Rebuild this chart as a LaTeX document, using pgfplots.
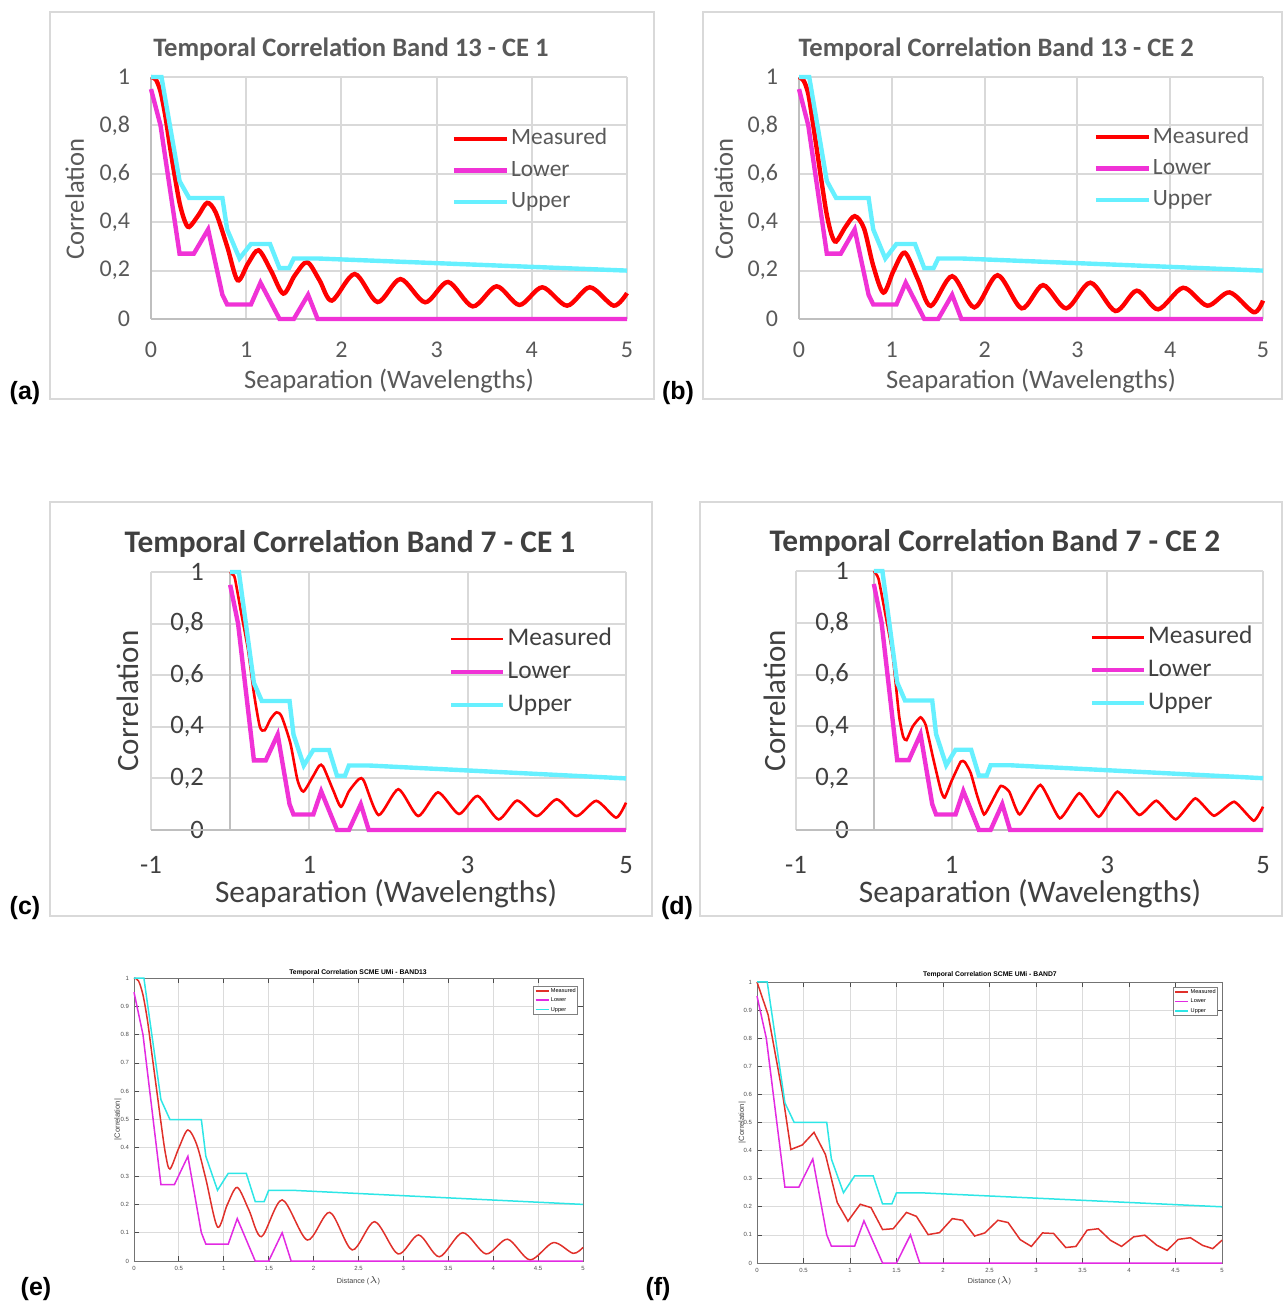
\documentclass[border=0pt]{standalone}
\usepackage{fontspec}
\setmainfont{Carlito}
\newfontfamily\arialfont{Liberation Sans}
\usepackage{pgfplots}
\usepackage{pgfplotstable}
\pgfplotsset{compat=1.18}

\definecolor{exred}{HTML}{FF0000}
\definecolor{exmag}{HTML}{F032D6}
\definecolor{excyan}{HTML}{66F0FF}
\definecolor{gridg}{HTML}{D9D9D9}
\definecolor{axg}{HTML}{BFBFBF}
\definecolor{txtg}{HTML}{595959}
\definecolor{txtd}{HTML}{404040}
\definecolor{mred}{HTML}{E0302A}
\definecolor{mmag}{HTML}{E22AE2}
\definecolor{mcyan}{HTML}{2EE6E6}

\newcommand{\fs}[1]{\fontsize{#1}{#1}\selectfont}

\pgfplotstableread{
x y
0 0.95
0.1 0.8
0.3 0.27
0.45 0.27
0.6 0.37
0.75 0.1
0.8 0.06
1.05 0.06
1.15 0.15
1.35 0
1.5 0
1.65 0.1
1.75 0
5 0
}\lowerdata

\pgfplotstableread{
x y
0 1
0.11 1
0.3 0.57
0.4 0.5
0.75 0.5
0.8 0.37
0.93 0.25
1.05 0.31
1.25 0.31
1.35 0.21
1.45 0.21
1.5 0.25
1.75 0.25
5 0.2
}\upperdata

\pgfplotsset{
  excel/.style={
    scale only axis, anchor=south west, clip=false,
    axis line style={draw=none}, major tick length=0pt,
    grid=major, major grid style={draw=gridg, line width=1pt},
    ymin=0, ymax=1, ytick={0,0.2,0.4,0.6,0.8,1},
    /pgf/number format/use comma, /pgf/number format/assume math mode=true,
    legend cell align=left,
    legend image code/.code={\draw[##1] (0pt,0pt) -- (26.5pt,0pt);},
    legend style={draw=none, fill=none, anchor=north west, inner sep=0pt, row sep=5.5pt,
       nodes={inner sep=0pt, text height=8pt, text depth=2.2pt},
       /tikz/every odd column/.append style={column sep=1pt}},
    title style={anchor=center, yshift=-7pt},
    ylabel style={anchor=center},
    xlabel style={anchor=center},
  },
  matlab/.style={
    scale only axis, anchor=south west, clip=false,
    xmin=0, xmax=5, ymin=0, ymax=1,
    xtick={0,0.5,...,5}, ytick={0,0.1,...,1},
    grid=major, major grid style={draw=black!14, line width=0.4pt},
    axis line style={draw=black!55, line width=0.4pt},
    tick align=inside, major tick length=2.5pt, tick style={draw=black!70, line width=0.4pt},
    tick label style={font=\arialfont\fs{3}, text=black!70},
    /pgf/number format/assume math mode=true,
    xticklabel style={yshift=1pt}, yticklabel style={xshift=1pt},
    title style={anchor=center, yshift=-7pt, font=\arialfont\bfseries\fs{3.4}},
    xlabel style={anchor=center, font=\arialfont\fs{3.6}, text=black!75},
    ylabel style={anchor=center, font=\arialfont\fs{3.8}, text=black!75},
    legend cell align=left,
    legend image code/.code={\draw[##1] (0pt,0pt) -- (6.5pt,0pt);},
    legend style={draw=black!50, fill=white, anchor=north east, font=\arialfont\fs{2.8},
       inner sep=0.6pt, row sep=1.4pt,
       nodes={inner sep=0.3pt, text height=2.1pt, text depth=0.6pt},
       /tikz/every odd column/.append style={column sep=0.5pt}},
  },
}

\begin{document}
\begin{tikzpicture}
\useasboundingbox (0,0) rectangle (642pt,651.5pt);

% ---------------- (a)
\begin{axis}[excel, at={(75.5pt,492pt)}, width=238pt, height=121pt,
  xmin=0, xmax=5, xtick={0,1,2,3,4,5},
  title={Temporal Correlation Band 13 - CE 1},
  title style={at={(axis description cs:0.42,1.124)}, font=\bfseries\fs{13.3}, text=txtg},
  xlabel={Seaparation (Wavelengths)},
  xlabel style={at={(axis description cs:0.5,-0.256)}, font=\fs{13.3}, text=txtg},
  ylabel={Correlation},
  ylabel style={at={(axis description cs:-0.16,0.496)}, font=\fs{13.3}, text=txtg},
  tick label style={font=\fs{12}, text=txtg},
  xticklabel style={yshift=-8pt}, yticklabel style={xshift=-7pt},
  legend style={at={(axis description cs:0.631,0.787)}, font=\fs{11.7}, text=txtg}]
\draw[axg, line width=1pt] (axis cs:0,0) -- (axis cs:5,0);
\draw[axg, line width=1pt] (axis cs:0,0) -- (axis cs:0,1);
\addplot[exred, line width=2.2pt, smooth] coordinates {
(0,1) (0.05,0.99) (0.1,0.94) (0.15,0.84) (0.2,0.71) (0.25,0.59) (0.3,0.48) (0.35,0.41) (0.4,0.38) (0.5,0.43) (0.59,0.48) (0.68,0.44) (0.8,0.3) (0.91,0.16) (1.02,0.23) (1.13,0.284) (1.26,0.2) (1.39,0.105) (1.51,0.18) (1.64,0.235) (1.77,0.16) (1.9,0.076) (2.14,0.186) (2.38,0.07) (2.62,0.165) (2.88,0.069) (3.12,0.153) (3.38,0.052) (3.63,0.135) (3.87,0.058) (4.11,0.131) (4.37,0.055) (4.61,0.131) (4.86,0.055) (5,0.107)};
\addplot[exmag, line width=2.2pt] table {\lowerdata};
\addplot[excyan, line width=2.2pt] table {\upperdata};
\legend{Measured,Lower,Upper}
\end{axis}

% ---------------- (b)
\begin{axis}[excel, at={(399.5pt,492pt)}, width=232pt, height=121pt,
  xmin=0, xmax=5, xtick={0,1,2,3,4,5},
  title={Temporal Correlation Band 13 - CE 2},
  title style={at={(axis description cs:0.425,1.124)}, font=\bfseries\fs{13.3}, text=txtg},
  xlabel={Seaparation (Wavelengths)},
  xlabel style={at={(axis description cs:0.5,-0.256)}, font=\fs{13.3}, text=txtg},
  ylabel={Correlation},
  ylabel style={at={(axis description cs:-0.162,0.496)}, font=\fs{13.3}, text=txtg},
  tick label style={font=\fs{12}, text=txtg},
  xticklabel style={yshift=-8pt}, yticklabel style={xshift=-7pt},
  legend style={at={(axis description cs:0.634,0.795)}, font=\fs{11.7}, text=txtg}]
\draw[axg, line width=1pt] (axis cs:0,0) -- (axis cs:5,0);
\draw[axg, line width=1pt] (axis cs:0,0) -- (axis cs:0,1);
\addplot[exred, line width=2.2pt, smooth] coordinates {
(0,1) (0.05,0.985) (0.1,0.93) (0.15,0.81) (0.2,0.68) (0.25,0.55) (0.3,0.43) (0.35,0.35) (0.4,0.32) (0.5,0.38) (0.6,0.425) (0.7,0.375) (0.8,0.22) (0.91,0.109) (1.02,0.2) (1.14,0.274) (1.28,0.165) (1.42,0.054) (1.65,0.177) (1.89,0.048) (2.14,0.181) (2.40,0.044) (2.63,0.14) (2.88,0.044) (3.14,0.15) (3.41,0.033) (3.64,0.117) (3.87,0.04) (4.14,0.129) (4.40,0.055) (4.64,0.11) (4.90,0.028) (5,0.076)};
\addplot[exmag, line width=2.2pt] table {\lowerdata};
\addplot[excyan, line width=2.2pt] table {\upperdata};
\legend{Measured,Lower,Upper}
\end{axis}

% ---------------- (c)
\begin{axis}[excel, at={(75.5pt,236.5pt)}, width=237.5pt, height=129pt,
  xmin=-1, xmax=5, xtick={-1,1,3,5},
  title={Temporal Correlation Band 7 - CE 1},
  title style={at={(axis description cs:0.419,1.117)}, font=\bfseries\fs{15.7}, text=txtd},
  xlabel={Seaparation (Wavelengths)},
  xlabel style={at={(axis description cs:0.495,-0.248)}, font=\fs{15.7}, text=txtd},
  ylabel={Correlation},
  ylabel style={at={(axis description cs:-0.048,0.5)}, font=\fs{15.5}, text=txtd},
  tick label style={font=\fs{13.3}, text=txtd},
  xticklabel style={yshift=-9.8pt}, yticklabel style={xshift=30pt},
  legend style={at={(axis description cs:0.627,0.787)}, font=\fs{12.7}, text=txtd,
     row sep=5pt, nodes={text height=9pt, text depth=2.5pt}},
  legend image code/.code={\draw[#1] (0pt,0pt) -- (26pt,0pt);}]
\draw[axg, line width=1pt] (axis cs:-1,0) -- (axis cs:5,0);
\draw[axg, line width=1pt] (axis cs:0,0) -- (axis cs:0,1);
\addplot[exred, line width=1.3pt, smooth, tension=0.4] coordinates {
(0,1) (0.03,0.99) (0.06,0.975) (0.14,0.84) (0.225,0.70) (0.3,0.53) (0.375,0.40) (0.435,0.386) (0.51,0.43) (0.585,0.456) (0.65,0.44) (0.76,0.337) (0.85,0.194) (0.925,0.149) (1.05,0.21) (1.125,0.249) (1.175,0.246) (1.3,0.155) (1.4,0.09) (1.5,0.15) (1.625,0.197) (1.69,0.19) (1.875,0.058) (2.125,0.158) (2.375,0.054) (2.625,0.146) (2.89,0.062) (3.125,0.132) (3.39,0.041) (3.625,0.114) (3.875,0.054) (4.125,0.119) (4.375,0.054) (4.625,0.113) (4.875,0.048) (5,0.106)};
\addplot[exmag, line width=2.2pt] table {\lowerdata};
\addplot[excyan, line width=2.2pt] table {\upperdata};
\legend{Measured,Lower,Upper}
\end{axis}

% ---------------- (d)
\begin{axis}[excel, at={(398pt,236.5pt)}, width=233.5pt, height=129.5pt,
  xmin=-1, xmax=5, xtick={-1,1,3,5},
  title={Temporal Correlation Band 7 - CE 2},
  title style={at={(axis description cs:0.426,1.117)}, font=\bfseries\fs{15.7}, text=txtd},
  xlabel={Seaparation (Wavelengths)},
  xlabel style={at={(axis description cs:0.501,-0.247)}, font=\fs{15.7}, text=txtd},
  ylabel={Correlation},
  ylabel style={at={(axis description cs:-0.045,0.5)}, font=\fs{15.5}, text=txtd},
  tick label style={font=\fs{13.3}, text=txtd},
  xticklabel style={yshift=-9.8pt}, yticklabel style={xshift=30pt},
  legend style={at={(axis description cs:0.628,0.79)}, font=\fs{12.7}, text=txtd,
     row sep=5pt, nodes={text height=9pt, text depth=2.5pt}},
  legend image code/.code={\draw[#1] (0pt,0pt) -- (26pt,0pt);}]
\draw[axg, line width=1pt] (axis cs:-1,0) -- (axis cs:5,0);
\draw[axg, line width=1pt] (axis cs:0,0) -- (axis cs:0,1);
\addplot[exred, line width=1.3pt, smooth, tension=0.3] coordinates {
(0,1) (0.06,0.97) (0.15,0.83) (0.24,0.68) (0.325,0.44) (0.377,0.36) (0.42,0.347) (0.5,0.4) (0.6,0.435) (0.667,0.405) (0.76,0.28) (0.86,0.154) (0.91,0.125) (1.0,0.19) (1.117,0.264) (1.17,0.262) (1.245,0.22) (1.33,0.13) (1.416,0.06) (1.5,0.10) (1.63,0.17) (1.74,0.148) (1.874,0.06) (2.14,0.174) (2.39,0.045) (2.64,0.142) (2.89,0.051) (3.13,0.148) (3.41,0.058) (3.63,0.113) (3.88,0.041) (4.13,0.122) (4.37,0.055) (4.63,0.109) (4.88,0.036) (5,0.09)};
\addplot[exmag, line width=2.2pt] table {\lowerdata};
\addplot[excyan, line width=2.2pt] table {\upperdata};
\legend{Measured,Lower,Upper}
\end{axis}

% ---------------- (e)
\begin{axis}[matlab, at={(67pt,21pt)}, width=224.5pt, height=141.5pt,
  title={Temporal Correlation SCME UMi - BAND13},
  title style={at={(axis description cs:0.499,1.025)}},
  xlabel={Distance ($\lambda$)},
  xlabel style={at={(axis description cs:0.5,-0.07)}},
  ylabel={|Correlation|},
  ylabel style={at={(axis description cs:-0.036,0.5)}},
  legend style={at={(axis description cs:0.989,0.972)}}]
\addplot[mred, line width=0.75pt, smooth] coordinates {
(0,1) (0.05,0.99) (0.1,0.94) (0.15,0.85) (0.2,0.73) (0.25,0.61) (0.3,0.49) (0.35,0.38) (0.4,0.325) (0.5,0.4) (0.6,0.463) (0.7,0.41) (0.8,0.29) (0.93,0.12) (1.04,0.2) (1.15,0.26) (1.28,0.18) (1.42,0.086) (1.65,0.216) (1.93,0.074) (2.18,0.172) (2.43,0.039) (2.68,0.139) (2.94,0.025) (3.17,0.092) (3.4,0.015) (3.66,0.1) (3.92,0.025) (4.16,0.077) (4.41,0.004) (4.67,0.065) (4.89,0.027) (5,0.048)};
\addplot[mmag, line width=0.75pt] table {\lowerdata};
\addplot[mcyan, line width=0.75pt] table {\upperdata};
\legend{Measured,Lower,Upper}
\end{axis}

% ---------------- (f)
\begin{axis}[matlab, at={(378.5pt,20pt)}, width=232.5pt, height=140.5pt,
  title={Temporal Correlation SCME UMi - BAND7},
  title style={at={(axis description cs:0.501,1.032)}},
  xlabel={Distance ($\lambda$)},
  xlabel style={at={(axis description cs:0.5,-0.064)}},
  ylabel={|Correlation|},
  ylabel style={at={(axis description cs:-0.032,0.5)}},
  legend style={at={(axis description cs:0.991,0.982)}}]
\addplot[mred, line width=0.75pt] coordinates {
(0,1) (0.12,0.883) (0.276,0.6) (0.364,0.404) (0.487,0.42) (0.613,0.465) (0.736,0.386) (0.863,0.215) (0.978,0.149) (1.11,0.209) (1.226,0.197) (1.35,0.119) (1.465,0.122) (1.607,0.18) (1.714,0.166) (1.84,0.101) (1.963,0.108) (2.1,0.158) (2.21,0.152) (2.34,0.096) (2.45,0.107) (2.59,0.152) (2.70,0.144) (2.83,0.083) (2.95,0.059) (3.07,0.107) (3.19,0.105) (3.32,0.055) (3.43,0.059) (3.55,0.117) (3.67,0.122) (3.80,0.081) (3.92,0.059) (4.05,0.093) (4.17,0.099) (4.30,0.063) (4.41,0.045) (4.53,0.084) (4.66,0.09) (4.79,0.063) (4.9,0.051) (5,0.081)};
\addplot[mmag, line width=0.75pt] table {\lowerdata};
\addplot[mcyan, line width=0.75pt] table {\upperdata};
\legend{Measured,Lower,Upper}
\end{axis}

% frames
\draw[gridg, line width=1pt] (25pt,452pt) rectangle (327pt,645.5pt);
\draw[gridg, line width=1pt] (351.5pt,452pt) rectangle (641pt,645.5pt);
\draw[gridg, line width=1pt] (25pt,193.5pt) rectangle (326pt,400.5pt);
\draw[gridg, line width=1pt] (350pt,193.5pt) rectangle (641pt,400.5pt);

% panel labels
\begin{scope}[every node/.style={font=\arialfont\bfseries\fs{12.5}, inner sep=0pt}]
\node at (12.5pt,455pt) {(a)};
\node at (339pt,455pt) {(b)};
\node at (12.5pt,197.5pt) {(c)};
\node at (338.5pt,197.5pt) {(d)};
\node at (18pt,7pt) {(e)};
\node at (329pt,7pt) {(f)};
\end{scope}
\end{tikzpicture}
\end{document}
